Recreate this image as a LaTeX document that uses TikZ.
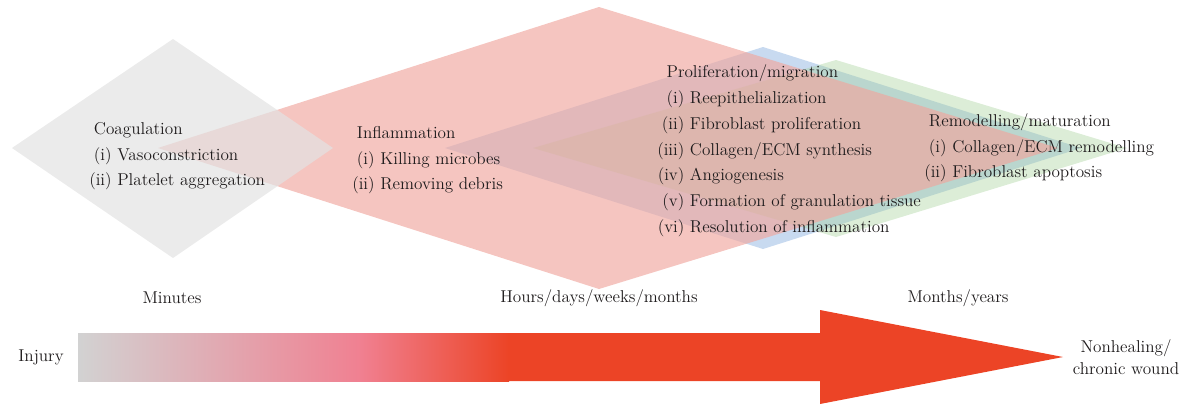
\documentclass[tikz,border=0pt]{standalone}
\definecolor{clotgrey}{RGB}{226,226,226}
\definecolor{inflpink}{RGB}{240,166,158}
\definecolor{prolblue}{RGB}{200,218,240}
\definecolor{remogreen}{RGB}{167,210,155}
\definecolor{bargrey}{RGB}{210,210,210}
\definecolor{barpink}{RGB}{240,128,145}
\definecolor{woundred}{RGB}{236,68,38}
\definecolor{textgrey}{RGB}{30,27,28}
\newcommand{\phasehead}[1]{\rlap{#1}\hphantom{(i)}}

\begin{document}
\begin{tikzpicture}[x=0.025cm,y=-0.025cm,
  phase/.style={anchor=west,inner sep=0pt,text=textgrey,font=\fontsize{12.2}{18.3}\selectfont},
  lbl/.style={inner sep=0pt,text=textgrey,align=center,font=\fontsize{12.2}{15.5}\selectfont}]
\useasboundingbox (0,0) rectangle (1183,404);

% phase diamonds
\fill[prolblue] (445,148) -- (763,47) -- (1081,148) -- (763,249) -- cycle;
\fill[remogreen,fill opacity=0.4] (533,148) -- (836,60) -- (1127,148) -- (836,237) -- cycle;
\fill[inflpink,fill opacity=0.65] (158,148) -- (599,7) -- (1058,148) -- (599,289) -- cycle;
\fill[clotgrey,fill opacity=0.7] (12,148) -- (173,39) -- (333,148) -- (173,258) -- cycle;

\node[phase] (coag) at (89,155) {\begin{tabular}{@{}r@{\ }l@{}}
  \phasehead{Coagulation} & \\
  (i) & Vasoconstriction \\
  (ii) & Platelet aggregation
\end{tabular}};
\node[phase] (infl) at (352,159) {\begin{tabular}{@{}r@{\ }l@{}}
  \phasehead{Inflammation} & \\
  (i) & Killing microbes \\
  (ii) & Removing debris
\end{tabular}};
\node[phase] (prol) at (657,150) {\begin{tabular}{@{}r@{\ }l@{}}
  \phasehead{Proliferation/migration} & \\
  (i) & Reepithelialization \\
  (ii) & Fibroblast proliferation \\
  (iii) & Collagen/ECM synthesis \\
  (iv) & Angiogenesis \\
  (v) & Formation of granulation tissue \\
  (vi) & Resolution of inflammation
\end{tabular}};
\node[phase] (remo) at (924,147) {\begin{tabular}{@{}r@{\ }l@{}}
  \phasehead{Remodelling/maturation} & \\
  (i) & Collagen/ECM remodelling \\
  (ii) & Fibroblast apoptosis
\end{tabular}};

% time scale
\node[lbl] (minutes) at (172,298) {Minutes};
\node[lbl] (hours) at (599,298) {Hours/days/weeks/months};
\node[lbl] (years) at (958,298) {Months/years};

% wound arrow
\shade[left color=bargrey,right color=barpink] (78,333) rectangle (361,381);
\shade[left color=barpink,right color=woundred] (360,333) rectangle (509,381);
\fill[woundred] (508,333) -- (820,333) -- (820,310) -- (1063,357) -- (820,404)
  -- (820,381) -- (508,381) -- cycle;
\node[lbl] (injury) at (41,357) {Injury};
\node[lbl] (chronic) at (1126,357) {Nonhealing/\\chronic wound};
\end{tikzpicture}
\end{document}
